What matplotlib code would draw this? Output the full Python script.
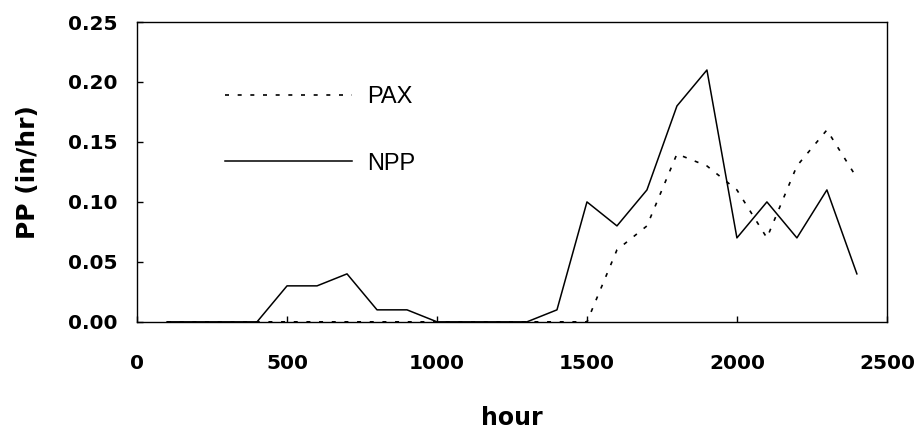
import numpy as np
import matplotlib.pyplot as plt

plt.rcParams['font.family'] = ['DejaVu Sans']

hour = [100, 200, 300, 400, 500, 600, 700, 800, 900, 1000, 1100, 1200,
        1300, 1400, 1500, 1600, 1700, 1800, 1900, 2000, 2100, 2200, 2300, 2400]
npp = [0, 0, 0, 0, 0.03, 0.03, 0.04, 0.01, 0.01, 0, 0, 0,
       0, 0.01, 0.10, 0.08, 0.11, 0.18, 0.21, 0.07, 0.10, 0.07, 0.11, 0.04]
pax = [0, 0, 0, 0, 0, 0, 0, 0, 0, 0, 0, 0,
       0, 0, 0, 0.06, 0.08, 0.14, 0.13, 0.11, 0.07, 0.13, 0.16, 0.12]

fig = plt.figure(figsize=(9.2, 4.32), dpi=100)
ax = fig.add_axes([0.149, 0.255, 0.815, 0.694])

ax.plot(hour, pax, color='black', lw=1.2, linestyle=(0, (2.4, 5.2)), label='PAX')
ax.plot(hour, npp, color='black', lw=1.1, label='NPP')

ax.set_xlim(0, 2500)
ax.set_ylim(0, 0.25)
ax.set_xticks([0, 500, 1000, 1500, 2000, 2500])
ax.set_yticks([0, 0.05, 0.10, 0.15, 0.20, 0.25])
ax.set_yticklabels(['0.00', '0.05', '0.10', '0.15', '0.20', '0.25'])
ax.tick_params(direction='in', length=4, width=1, labelsize=14.5)
ax.tick_params(axis='x', pad=23)
ax.tick_params(axis='y', pad=14)
for lbl in ax.get_xticklabels() + ax.get_yticklabels():
    lbl.set_fontweight('bold')
for s in ax.spines.values():
    s.set_linewidth(1.0)

ax.set_xlabel('hour', fontsize=17, fontweight='bold', labelpad=24)
ax.set_ylabel('PP (in/hr)', fontsize=18, fontweight='bold', labelpad=20)

leg = ax.legend(loc='upper left', bbox_to_anchor=(0.117, 0.787), frameon=False,
                borderpad=0, borderaxespad=0,
                handlelength=5.4, handletextpad=0.63, labelspacing=1.9,
                prop={'family': 'Liberation Sans', 'size': 17})

fig.savefig('out.png', dpi=100)
